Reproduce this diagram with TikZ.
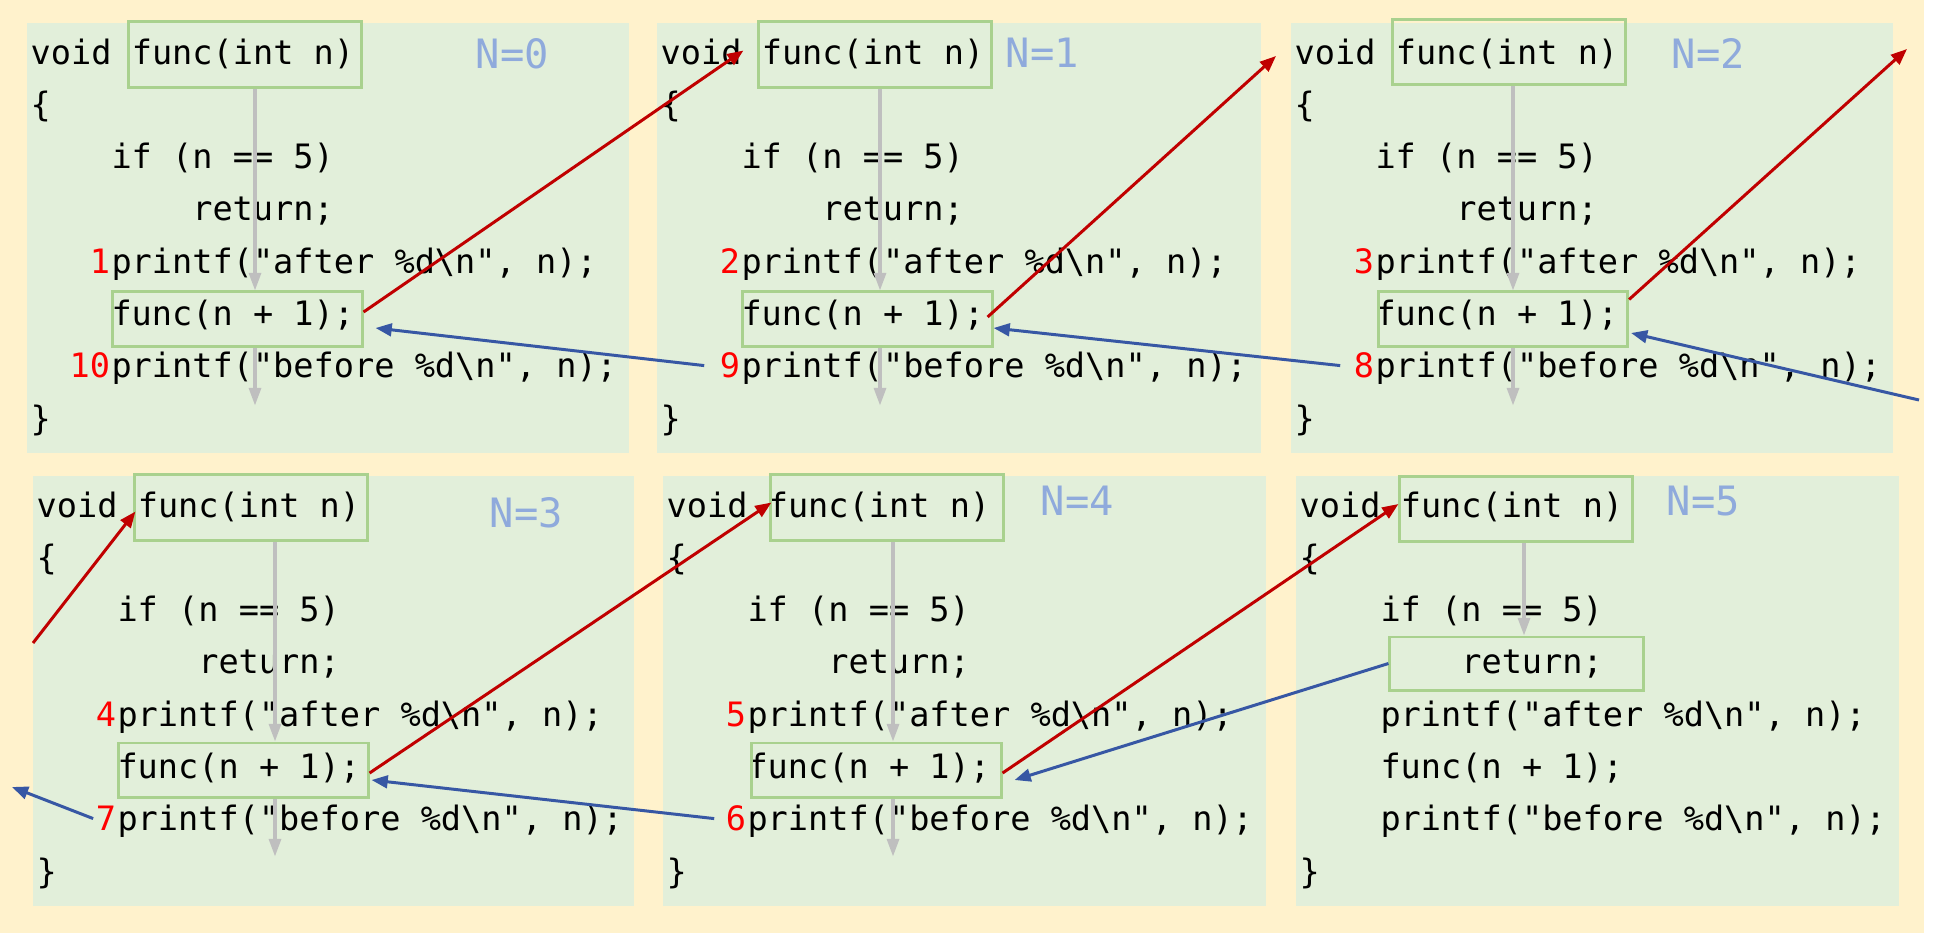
\documentclass[tikz,border=0pt]{standalone}
\usepackage{fontspec}
\newfontfamily\codefont{DejaVu Sans Mono}
\usetikzlibrary{arrows.meta,calc}
\definecolor{paper}{HTML}{FFF2CC}
\definecolor{leaf}{HTML}{E2EFDA}
\definecolor{boxgreen}{HTML}{A9D18E}
\definecolor{lvlblue}{HTML}{8FAADC}
\definecolor{numred}{HTML}{FF0000}
\definecolor{callred}{HTML}{C00000}
\definecolor{backblue}{HTML}{3757A4}
\definecolor{flowgray}{HTML}{BFBFBF}

\begin{document}
\begin{tikzpicture}
[x=0.01cm, y=-0.01cm,
 src/.style={anchor=base west, inner sep=0pt, font=\codefont\fontsize{9.55}{11}\selectfont},
 num/.style={src, anchor=base east, text=numred},
 lvl/.style={anchor=base west, inner sep=0pt, text=lvlblue, font=\codefont\fontsize{11.5}{13}\selectfont},
 hot/.style={draw=boxgreen, line width=0.85pt, inner sep=0pt},
 fibox/.style={hot, minimum width=2.32cm, minimum height=0.65cm},
 callbox/.style={hot, minimum width=2.49cm, minimum height=0.54cm},
 flow/.style={draw=flowgray, line width=0.9pt, -{Triangle[width=3.4pt,length=5pt]}},
 callarrow/.style={draw=callred, line width=0.85pt, -{Triangle[width=3.6pt,length=4.6pt]}},
 retarrow/.style={draw=backblue, line width=0.85pt, -{Triangle[width=3.6pt,length=4.6pt]}},
]

\useasboundingbox (0,0) rectangle (1934,942);
\fill[white] (0,0) rectangle (1934,942);
\fill[paper] (0,0) rectangle (1924,933);

%N=0
\begin{scope}[shift={(27,23)}]
\fill[leaf] (0,0) rectangle (602,430);
\node[src] (hd0) at (3,41) {void func(int n)};
\node[src] (ob0) at (3,93.3) {\{};
\node[src] (if0) at (83.8,145.6) {if (n == 5)};
\node[src] (rt0) at (164.6,197.9) {return;};
\node[src] (pa0) at (83.8,250.2) {printf("after \%d\textbackslash n", n);};
\node[src] (fc0) at (83.8,302.5) {func(n + 1);};
\node[src] (pb0) at (83.8,354.8) {printf("before \%d\textbackslash n", n);};
\node[src] (cb0) at (3,407.1) {\}};
\node[num] (n1) at (83.8,250.2) {1};
\node[num] (n10) at (83.8,354.8) {10};
\node[lvl] (lv0) at (448,45) {N=0};
\node[fibox] (fi0) at (218,31.5) {};
\node[callbox] (call0) at (210.5,296) {};
\coordinate (g0) at (228,0);
\draw[flow] (g0 |- fi0.south) -- (g0 |- call0.north);
\draw[flow] (g0 |- call0.south) -- ++(0,58);
\end{scope}

%N=1
\begin{scope}[shift={(657,23)}]
\fill[leaf] (0,0) rectangle (604,430);
\node[src] (hd1) at (3,41) {void func(int n)};
\node[src] (ob1) at (3,93.3) {\{};
\node[src] (if1) at (83.8,145.6) {if (n == 5)};
\node[src] (rt1) at (164.6,197.9) {return;};
\node[src] (pa1) at (83.8,250.2) {printf("after \%d\textbackslash n", n);};
\node[src] (fc1) at (83.8,302.5) {func(n + 1);};
\node[src] (pb1) at (83.8,354.8) {printf("before \%d\textbackslash n", n);};
\node[src] (cb1) at (3,407.1) {\}};
\node[num] (n2) at (83.8,250.2) {2};
\node[num] (n9) at (83.8,354.8) {9};
\node[lvl] (lv1) at (348,44) {N=1};
\node[fibox] (fi1) at (218,31.5) {};
\node[callbox] (call1) at (210.5,296) {};
\coordinate (g1) at (223,0);
\draw[flow] (g1 |- fi1.south) -- (g1 |- call1.north);
\draw[flow] (g1 |- call1.south) -- ++(0,58);
\end{scope}

%N=2
\begin{scope}[shift={(1291,23)}]
\fill[leaf] (0,0) rectangle (602,430);
\node[src] (hd2) at (3,41) {void func(int n)};
\node[src] (ob2) at (3,93.3) {\{};
\node[src] (if2) at (83.8,145.6) {if (n == 5)};
\node[src] (rt2) at (164.6,197.9) {return;};
\node[src] (pa2) at (83.8,250.2) {printf("after \%d\textbackslash n", n);};
\node[src] (fc2) at (83.8,302.5) {func(n + 1);};
\node[src] (pb2) at (83.8,354.8) {printf("before \%d\textbackslash n", n);};
\node[src] (cb2) at (3,407.1) {\}};
\node[num] (n3) at (83.8,250.2) {3};
\node[num] (n8) at (83.8,354.8) {8};
\node[lvl] (lv2) at (380,45) {N=2};
\node[fibox] (fi2) at (218,29) {};
\node[callbox] (call2) at (212,296) {};
\coordinate (g2) at (222,0);
\draw[flow] (g2 |- fi2.south) -- (g2 |- call2.north);
\draw[flow] (g2 |- call2.south) -- ++(0,58);
\end{scope}

%N=3
\begin{scope}[shift={(33,476)}]
\fill[leaf] (0,0) rectangle (601,430);
\node[src] (hd3) at (3,41) {void func(int n)};
\node[src] (ob3) at (3,93.3) {\{};
\node[src] (if3) at (83.8,145.6) {if (n == 5)};
\node[src] (rt3) at (164.6,197.9) {return;};
\node[src] (pa3) at (83.8,250.2) {printf("after \%d\textbackslash n", n);};
\node[src] (fc3) at (83.8,302.5) {func(n + 1);};
\node[src] (pb3) at (83.8,354.8) {printf("before \%d\textbackslash n", n);};
\node[src] (cb3) at (3,407.1) {\}};
\node[num] (n4) at (83.8,250.2) {4};
\node[num] (n7) at (83.8,354.8) {7};
\node[lvl] (lv3) at (456,51) {N=3};
\node[fibox] (fi3) at (218,31.5) {};
\node[callbox] (call3) at (210.5,294) {};
\coordinate (g3) at (242,0);
\draw[flow] (g3 |- fi3.south) -- (g3 |- call3.north);
\draw[flow] (g3 |- call3.south) -- ++(0,58);
\end{scope}

%N=4
\begin{scope}[shift={(663,476)}]
\fill[leaf] (0,0) rectangle (603,430);
\node[src] (hd4) at (3,41) {void func(int n)};
\node[src] (ob4) at (3,93.3) {\{};
\node[src] (if4) at (83.8,145.6) {if (n == 5)};
\node[src] (rt4) at (164.6,197.9) {return;};
\node[src] (pa4) at (83.8,250.2) {printf("after \%d\textbackslash n", n);};
\node[src] (fc4) at (83.8,302.5) {func(n + 1);};
\node[src] (pb4) at (83.8,354.8) {printf("before \%d\textbackslash n", n);};
\node[src] (cb4) at (3,407.1) {\}};
\node[num] (n5) at (83.8,250.2) {5};
\node[num] (n6) at (83.8,354.8) {6};
\node[lvl] (lv4) at (377,39) {N=4};
\node[fibox] (fi4) at (224,31.5) {};
\node[callbox] (call4) at (213.5,294) {};
\coordinate (g4) at (230,0);
\draw[flow] (g4 |- fi4.south) -- (g4 |- call4.north);
\draw[flow] (g4 |- call4.south) -- ++(0,58);
\end{scope}

%N=5
\begin{scope}[shift={(1296,476)}]
\fill[leaf] (0,0) rectangle (603,430);
\node[src] (hd5) at (3,41) {void func(int n)};
\node[src] (ob5) at (3,93.3) {\{};
\node[src] (if5) at (83.8,145.6) {if (n == 5)};
\node[src] (rt5) at (164.6,197.9) {return;};
\node[src] (pa5) at (83.8,250.2) {printf("after \%d\textbackslash n", n);};
\node[src] (fc5) at (83.8,302.5) {func(n + 1);};
\node[src] (pb5) at (83.8,354.8) {printf("before \%d\textbackslash n", n);};
\node[src] (cb5) at (3,407.1) {\}};
\node[lvl] (lv5) at (370,39) {N=5};
\node[fibox] (fi5) at (220,33) {};
\node[hot, minimum width=2.53cm, minimum height=0.53cm] (ret5) at (220.5,187.5) {};
\coordinate (g5) at (228,0);
\draw[flow] (g5 |- fi5.south) -- (g5 |- ret5.north);
\end{scope}

%calls
\coordinate (up2) at (1276,56);
\coordinate (up3) at (1907,49);
\coordinate (in3) at (33,643);
\draw[callarrow] ($(call0.east)+(0,-7)$) -- ($(fi1.west)+(-14,-4)$);
\draw[callarrow] ($(call1.east)+(-6,-2)$) -- (up2);
\draw[callarrow] ($(call2.north east)+(0,9)$) -- (up3);
\draw[callarrow] (in3) -- ($(fi3.west)+(2,4)$);
\draw[callarrow] ($(call3.east)+(0,3)$) -- ($(fi4.west)+(2,-5)$);
\draw[callarrow] ($(call4.east)+(0,3)$) -- ($(fi5.west)+(0,-5)$);

%returns
\coordinate (out7) at (12,787);
\coordinate (in8) at (1919,400);
\draw[retarrow] (ret5.west) -- ($(call4.east)+(12,10)$);
\draw[retarrow] ($(n6.west)+(-11,0)$) -- ($(call3.east)+(2,10)$);
\draw[retarrow] ($(n7.west)+(-2,0)$) -- (out7);
\draw[retarrow] (in8) -- ($(call2.east)+(2,14)$);
\draw[retarrow] ($(n8.west)+(-13,0)$) -- ($(call1.east)+(0,9)$);
\draw[retarrow] ($(n9.west)+(-15,0)$) -- ($(call0.east)+(12,9)$);

\end{tikzpicture}
\end{document}
